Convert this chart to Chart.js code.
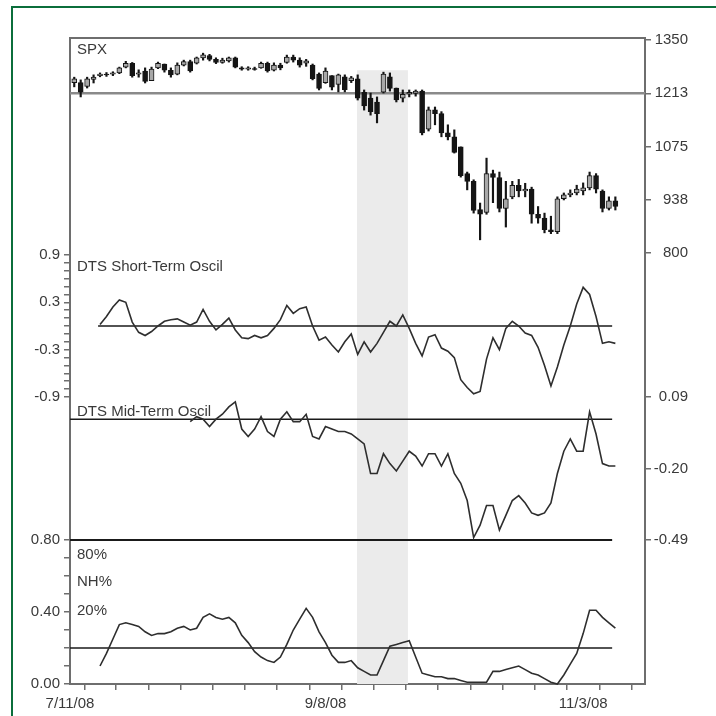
<!DOCTYPE html>
<html>
<head>
<meta charset="utf-8">
<script src="https://cdn.jsdelivr.net/npm/chart.js@4.4.1/dist/chart.umd.min.js"></script>
<style>
  html, body { margin: 0; padding: 0; background: #fff; overflow: hidden; }
  #wrap { position: relative; width: 716px; height: 716px; overflow: hidden; }
  #frame { position: absolute; left: 11px; top: 6px; width: 760px; height: 760px; border: 2px solid #0b6e3b; }
  canvas { position: absolute; left: 0; top: 0; }
</style>
</head>
<body>
<div id="wrap">
  <div id="frame"></div>
  <canvas id="chart" width="716" height="716"></canvas>
</div>
<script>
// SPX daily bars, trading day index -4 .. 80
const spxFirstDay = -4;
const spxOpen = [
  1240,1240,1230,1248,
  1258,1262,1262,1265,1280,1290,1262,1270,1245,1278,
  1288,1272,1262,1285,1294,1290,1304,1310,1300,1292,
  1296,1304,1278,1275,1276,1278,1290,1272,1285,1292,
  1306,1298,1290,1285,1262,1240,1258,1235,1255,1245,
  1250,1215,1200,1190,1215,1255,1226,1200,1210,1212,
  1218,1120,1170,1160,1110,1100,1074,1005,985,912,
  905,1005,995,915,945,975,960,965,900,890,
  860,855,940,950,955,960,968,1000,960,915,
  935];
const spxHigh = [
  1254,1247,1254,1260,
  1265,1266,1268,1280,1295,1292,1273,1278,1280,1293,
  1288,1278,1291,1298,1298,1306,1316,1313,1304,1303,
  1306,1306,1281,1281,1280,1293,1293,1291,1290,1311,
  1311,1304,1300,1288,1265,1278,1258,1262,1260,1256,
  1260,1221,1213,1203,1267,1265,1226,1221,1221,1221,
  1221,1177,1177,1165,1131,1118,1074,1009,989,929,
  1045,1014,1009,985,985,990,980,970,920,903,
  895,945,955,963,975,981,1009,1005,963,945,
  945];
const spxLow = [
  1229,1203,1226,1239,
  1255,1256,1258,1263,1278,1254,1254,1239,1245,1276,
  1267,1254,1260,1283,1267,1288,1298,1296,1289,1290,
  1293,1278,1272,1272,1272,1277,1267,1270,1273,1290,
  1293,1280,1282,1247,1221,1238,1221,1216,1216,1240,
  1195,1169,1156,1136,1213,1218,1190,1190,1203,1205,
  1105,1115,1131,1100,1092,1058,996,963,903,834,
  900,930,906,867,940,945,945,877,877,852,
  850,850,937,945,950,950,963,955,906,911,
  911];
const spxClose = [
  1250,1215,1250,1254,
  1262,1260,1265,1278,1290,1258,1265,1243,1275,1290,
  1272,1260,1285,1294,1270,1304,1312,1300,1292,1298,
  1304,1280,1275,1278,1274,1290,1270,1285,1278,1306,
  1298,1285,1296,1250,1225,1270,1228,1260,1222,1252,
  1200,1180,1165,1160,1262,1225,1195,1210,1215,1218,
  1110,1170,1160,1110,1100,1060,1000,985,910,900,
  1005,995,915,940,975,960,965,900,890,860,
  855,940,950,955,965,968,1000,965,915,935,
  920];

// DTS short-term oscillator, day 0 .. 80
const shortFirstDay = 0;
const shortOsc = [
  0.02,0.12,0.24,0.33,0.30,0.05,-0.08,-0.12,-0.07,0.00,
  0.06,0.08,0.09,0.05,0.01,0.05,0.21,0.06,-0.05,0.02,
  0.10,-0.05,-0.15,-0.16,-0.12,-0.15,-0.12,-0.03,0.08,0.26,
  0.16,0.22,0.24,0.00,-0.18,-0.14,-0.24,-0.33,-0.20,-0.10,
  -0.36,-0.20,-0.33,-0.22,-0.08,0.06,0.00,0.14,-0.03,-0.22,
  -0.38,-0.14,-0.11,-0.28,-0.32,-0.40,-0.68,-0.78,-0.86,-0.83,
  -0.42,-0.15,-0.30,-0.03,0.06,0.00,-0.09,-0.12,-0.27,-0.50,
  -0.76,-0.52,-0.24,0.00,0.28,0.49,0.40,0.12,-0.22,-0.20,
  -0.22];

// DTS mid-term oscillator, day 14 .. 80
const midFirstDay = 14;
const midOsc = [
  -0.01,0.01,0.00,-0.03,0.00,0.02,0.05,0.07,-0.04,-0.07,
  -0.04,0.01,-0.05,-0.07,0.00,0.03,-0.01,-0.01,0.02,-0.07,
  -0.08,-0.03,-0.04,-0.05,-0.05,-0.06,-0.08,-0.10,-0.22,-0.22,
  -0.14,-0.18,-0.21,-0.17,-0.13,-0.15,-0.19,-0.14,-0.14,-0.19,
  -0.14,-0.22,-0.26,-0.33,-0.48,-0.43,-0.35,-0.35,-0.45,-0.39,
  -0.33,-0.31,-0.34,-0.38,-0.39,-0.38,-0.34,-0.22,-0.13,-0.08,
  -0.13,-0.13,0.03,-0.06,-0.18,-0.19,-0.19];

// NH% (new highs), day 0 .. 80
const nhFirstDay = 0;
const nhPct = [
  0.10,0.17,0.25,0.33,0.34,0.33,0.32,0.29,0.27,0.28,
  0.28,0.29,0.31,0.32,0.30,0.31,0.37,0.39,0.37,0.36,
  0.37,0.34,0.27,0.23,0.18,0.15,0.13,0.12,0.15,0.22,
  0.30,0.36,0.42,0.37,0.29,0.23,0.16,0.12,0.12,0.13,
  0.09,0.07,0.05,0.05,0.13,0.21,0.22,0.23,0.24,0.15,
  0.06,0.05,0.04,0.04,0.03,0.03,0.02,0.01,0.01,0.01,
  0.01,0.07,0.07,0.08,0.09,0.10,0.08,0.06,0.05,0.03,
  0.01,0.00,0.05,0.11,0.17,0.28,0.41,0.41,0.37,0.34,
  0.31];

// axes and reference levels
const xMin = -4.66, xMax = 84.6;
const weekTicks = [0,5,10,15,20,25,30,35,40,45,50,55,60,65,70,75,80];
const dateDays = [xMin, 35, 75];
const dateLabels = ['7/11/08', '9/8/08', '11/3/08'];
const spxTicks = [1350, 1212.5, 1075, 937.5, 800];
const shortLabels = [0.9, 0.3, -0.3, -0.9];
const midTicks = [0.09, -0.20, -0.49];
const nhLabels = [0.8, 0.4, 0.0];
const spxLevel = 1212.5;
const midLevels = [0, -0.49];
const nhLevel = 0.2;
const refLineEnd = 79.5;
const shadeDays = [39.9, 47.8];
const shadeTop = 1272;

const TEXT = '#3a3a3a';
const AXIS = '#6e6e6e';
const FONT = { family: "'Liberation Sans', Arial, sans-serif", size: 15 };

const near = (list, v) => list.some(l => Math.abs(l - v) < 1e-6);
const steps = (lo, hi, st) => { const out = []; for (let v = lo; v <= hi + 1e-9; v += st) out.push(Math.round(v * 100) / 100); return out; };
const pts = (first, arr) => arr.map((v, i) => ({ x: first + i, y: v }));
const hline = (x0, x1, y) => [{ x: x0, y: y }, { x: x1, y: y }];

function dummy(pos, stack, weight, sw, w) {
  return { type: 'linear', position: pos, stack: stack, stackWeight: sw, weight: weight, min: 0, max: 1,
    ticks: { display: false }, grid: { display: false, drawTicks: false },
    border: { color: AXIS, width: 2 }, afterFit: s => { s.width = w; } };
}

const LEFT_W = 70, RIGHT_W = 43;

const panelText = {
  id: 'panelText',
  beforeDatasetsDraw(chart) {
    const { ctx, chartArea, scales } = chart;
    const x0 = scales.x.getPixelForValue(shadeDays[0]);
    const x1 = scales.x.getPixelForValue(shadeDays[1]);
    const yTop = scales.spx.getPixelForValue(shadeTop);
    ctx.save();
    ctx.fillStyle = '#ebebeb';
    ctx.fillRect(x0, yTop, x1 - x0, chartArea.bottom - yTop);
    ctx.fillStyle = TEXT;
    ctx.font = FONT.size + 'px ' + FONT.family;
    ctx.textBaseline = 'middle';
    const lx = chartArea.left + 7;
    ctx.fillText('SPX', lx, scales.spx.top + 12);
    ctx.fillText('DTS Short-Term Oscil', lx, scales.short.top + 12);
    ctx.fillText('DTS Mid-Term Oscil', lx, scales.mid.top + 15);
    ctx.fillText('80%', lx, scales.nh.top + 15);
    ctx.fillText('NH%', lx, scales.nh.top + 42);
    ctx.fillText('20%', lx, scales.nh.top + 71);
    ctx.restore();
  }
};

const spxDays = spxOpen.map((_, i) => spxFirstDay + i);
const line = (data, yAxisID, color, width, order) => ({
  type: 'line', data: data, yAxisID: yAxisID, xAxisID: 'x', borderColor: color, borderWidth: width,
  pointRadius: 0, tension: 0, fill: false, order: order, clip: 4
});

new Chart(document.getElementById('chart'), {
  type: 'line',
  data: {
    datasets: [
      line(hline(xMin, xMax, spxLevel), 'spx', '#8a8a8a', 2.5, 5),
      {
        type: 'bar', yAxisID: 'spx', xAxisID: 'x', order: 3, grouped: false, barThickness: 1.5,
        data: spxDays.map((d, i) => ({ x: d, y: [spxLow[i], spxHigh[i]] })),
        backgroundColor: '#151515'
      },
      {
        type: 'bar', yAxisID: 'spx', xAxisID: 'x', order: 2, grouped: false, barThickness: 5,
        data: spxDays.map((d, i) => ({ x: d, y: [spxOpen[i], spxClose[i]] })),
        backgroundColor: c => spxClose[c.dataIndex] >= spxOpen[c.dataIndex] ? '#a8a8a8' : '#151515',
        borderColor: '#151515', borderWidth: 1, borderSkipped: false
      },
      line(hline(-0.3, refLineEnd, 0), 'short', '#1a1a1a', 1.5, 1),
      line(pts(shortFirstDay, shortOsc), 'short', '#2e2e2e', 1.6, 0),
      line(hline(xMin, refLineEnd, midLevels[0]), 'mid', '#1a1a1a', 1.5, 1),
      line(hline(xMin, refLineEnd, midLevels[1]), 'mid', '#1a1a1a', 2, 1),
      line(pts(midFirstDay, midOsc), 'mid', '#2e2e2e', 1.6, 0),
      line(hline(xMin, refLineEnd, nhLevel), 'nh', '#1a1a1a', 1.5, 1),
      line(pts(nhFirstDay, nhPct), 'nh', '#2e2e2e', 1.6, 0)
    ]
  },
  options: {
    responsive: false,
    animation: false,
    devicePixelRatio: 1,
    layout: { padding: { top: 38, right: 28, bottom: 0, left: 0 } },
    plugins: { legend: { display: false }, tooltip: { enabled: false } },
    scales: {
      x: {
        type: 'linear', position: 'bottom', min: xMin, max: xMax, offset: false,
        afterBuildTicks: s => { s.ticks = [xMin].concat(weekTicks).map(v => ({ value: v })); },
        afterFit: s => { s.height = 32; },
        ticks: { autoSkip: false, maxRotation: 0, font: FONT, color: TEXT, padding: 5,
          callback: v => { const i = dateDays.indexOf(v); return i < 0 ? '' : dateLabels[i]; } },
        grid: { drawOnChartArea: false, tickLength: 6, color: AXIS, lineWidth: 1.5 },
        border: { color: AXIS, width: 2 }
      },
      xTop: {
        type: 'linear', position: 'top', min: xMin, max: xMax, offset: false,
        ticks: { display: false }, grid: { display: false, drawTicks: false },
        border: { color: AXIS, width: 2 }, afterFit: s => { s.height = 0; }
      },
      // left column, top to bottom
      spxL: dummy('left', 'L', 4, 217, LEFT_W),
      short: {
        type: 'linear', position: 'left', stack: 'L', stackWeight: 142, weight: 3, min: -0.9, max: 0.9,
        afterBuildTicks: s => { s.ticks = steps(-0.9, 0.9, 0.1).map(v => ({ value: v })); },
        afterFit: s => { s.width = LEFT_W; },
        ticks: { autoSkip: false, font: FONT, color: TEXT, padding: 4,
          callback: v => near(shortLabels, v) ? v.toFixed(1) : '' },
        grid: { drawOnChartArea: false, tickLength: 6, color: AXIS, lineWidth: 1.5 },
        border: { color: AXIS, width: 2 }
      },
      midL: dummy('left', 'L', 2, 143, LEFT_W),
      nh: {
        type: 'linear', position: 'left', stack: 'L', stackWeight: 144, weight: 1, min: 0, max: 0.8,
        afterBuildTicks: s => { s.ticks = steps(0, 0.8, 0.1).map(v => ({ value: v })); },
        afterFit: s => { s.width = LEFT_W; },
        ticks: { autoSkip: false, font: FONT, color: TEXT, padding: 4,
          callback: v => near(nhLabels, v) ? v.toFixed(2) : '' },
        grid: { drawOnChartArea: false, tickLength: 6, color: AXIS, lineWidth: 1.5 },
        border: { color: AXIS, width: 2 }
      },
      // right column, top to bottom
      spx: {
        type: 'linear', position: 'right', stack: 'R', stackWeight: 217, weight: 1,
        min: 800 - 2 / 0.38727, max: 1350 + 2 / 0.38727,
        afterBuildTicks: s => { s.ticks = spxTicks.map(v => ({ value: v })); },
        afterFit: s => { s.width = RIGHT_W; },
        ticks: { autoSkip: false, font: FONT, color: TEXT, crossAlign: 'far', callback: v => String(Math.round(v)) },
        grid: { drawOnChartArea: false, tickLength: 6, color: AXIS, lineWidth: 1.5 },
        border: { color: AXIS, width: 2 }
      },
      shortR: dummy('right', 'R', 2, 142, RIGHT_W),
      mid: {
        type: 'linear', position: 'right', stack: 'R', stackWeight: 143, weight: 3, min: -0.49, max: 0.09,
        afterBuildTicks: s => { s.ticks = midTicks.map(v => ({ value: v })); },
        afterFit: s => { s.width = RIGHT_W; },
        ticks: { autoSkip: false, font: FONT, color: TEXT, crossAlign: 'far', callback: v => v.toFixed(2) },
        grid: { drawOnChartArea: false, tickLength: 6, color: AXIS, lineWidth: 1.5 },
        border: { color: AXIS, width: 2 }
      },
      nhR: dummy('right', 'R', 4, 144, RIGHT_W)
    }
  },
  plugins: [panelText]
});
</script>
</body>
</html>
